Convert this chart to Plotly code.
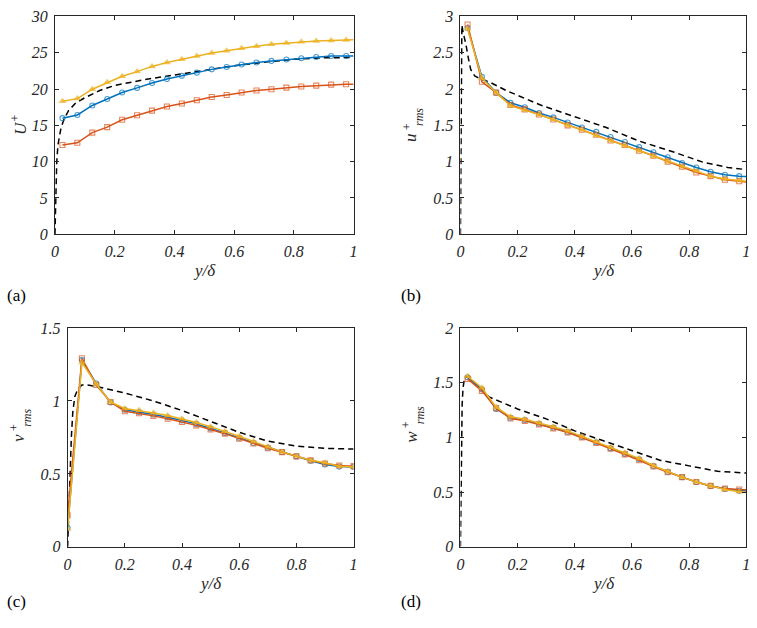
import plotly.graph_objects as go

W, H = 757, 628

# ---------------- data ----------------
x_mid = [0.025, 0.075, 0.125, 0.175, 0.225, 0.275, 0.325, 0.375, 0.425, 0.475,
         0.525, 0.575, 0.625, 0.675, 0.725, 0.775, 0.825, 0.875, 0.925, 0.975, 1.0]
x_c = [0.0, 0.05, 0.10, 0.15, 0.20, 0.25, 0.30, 0.35, 0.40, 0.45, 0.50,
       0.55, 0.60, 0.65, 0.70, 0.75, 0.80, 0.85, 0.90, 0.95, 1.0]

# (a) mean velocity U+
U_blue = [15.99, 16.43, 17.74, 18.63, 19.53, 20.16, 20.83, 21.37, 21.82, 22.26,
          22.71, 23.03, 23.39, 23.65, 23.88, 24.06, 24.24, 24.42, 24.55, 24.55, 24.56]
U_red = [12.3, 12.6, 14.0, 14.75, 15.76, 16.39, 17.02, 17.6, 18.0, 18.45,
         18.9, 19.17, 19.53, 19.8, 19.98, 20.2, 20.34, 20.47, 20.61, 20.65, 20.67]
U_yel = [18.32, 18.68, 19.98, 20.92, 21.77, 22.4, 23.12, 23.65, 24.1, 24.55,
         24.96, 25.27, 25.63, 25.9, 26.17, 26.35, 26.52, 26.61, 26.7, 26.75, 26.8]
U_ref_x = [0, 0.001, 0.002, 0.004, 0.006, 0.01, 0.015, 0.02, 0.03, 0.045, 0.07,
           0.1, 0.15, 0.2, 0.3, 0.4, 0.5, 0.6, 0.7, 0.8, 0.9, 1.0]
U_ref = [0, 2.0, 4.0, 7.5, 10.0, 12.3, 13.8, 14.6, 15.8, 17.0, 18.1,
         18.8, 19.8, 20.5, 21.3, 21.95, 22.6, 23.2, 23.7, 24.1, 24.3, 24.35]

# (b) u_rms+
u_blue = [2.84, 2.17, 1.95, 1.81, 1.75, 1.67, 1.61, 1.54, 1.47, 1.41,
          1.34, 1.27, 1.20, 1.13, 1.06, 0.98, 0.92, 0.86, 0.82, 0.80, 0.795]
u_red = [2.89, 2.10, 1.95, 1.78, 1.72, 1.65, 1.58, 1.50, 1.44, 1.37,
         1.29, 1.23, 1.15, 1.08, 1.00, 0.93, 0.85, 0.80, 0.75, 0.73, 0.72]
u_yel = [2.83, 2.15, 1.95, 1.77, 1.71, 1.65, 1.58, 1.50, 1.44, 1.36,
         1.29, 1.22, 1.15, 1.07, 1.00, 0.93, 0.87, 0.80, 0.76, 0.74, 0.73]
u_ref_x = [0, 0.001, 0.002, 0.003, 0.005, 0.01, 0.019, 0.027, 0.036, 0.05, 0.07,
           0.1, 0.16, 0.28, 0.39, 0.51, 0.62, 0.74, 0.85, 0.935, 1.0]
u_ref = [0, 0.8, 1.8, 2.5, 2.88, 2.77, 2.62, 2.44, 2.27, 2.18, 2.14,
         2.10, 1.98, 1.78, 1.63, 1.47, 1.29, 1.14, 0.99, 0.92, 0.89]

# (c) v_rms+
v_blue = [0.13, 1.28, 1.12, 0.99, 0.94, 0.925, 0.907, 0.888, 0.866, 0.843, 0.812,
          0.78, 0.748, 0.712, 0.68, 0.65, 0.62, 0.59, 0.565, 0.55, 0.548]
v_red = [0.216, 1.293, 1.11, 0.993, 0.93, 0.916, 0.898, 0.878, 0.856, 0.833, 0.804,
         0.776, 0.742, 0.709, 0.676, 0.649, 0.62, 0.593, 0.571, 0.558, 0.553]
v_yel = [0.122, 1.264, 1.116, 0.993, 0.949, 0.936, 0.918, 0.90, 0.878, 0.853, 0.824,
         0.793, 0.758, 0.722, 0.687, 0.651, 0.622, 0.593, 0.576, 0.553, 0.549]
v_ref_x = [0, 0.003, 0.008, 0.013, 0.018, 0.025, 0.035, 0.05, 0.07, 0.1,
           0.2, 0.3, 0.4, 0.5, 0.6, 0.7, 0.8, 0.9, 1.0]
v_ref = [0, 0.2, 0.5, 0.75, 0.92, 1.03, 1.08, 1.11, 1.11, 1.10,
         1.055, 1.0, 0.935, 0.86, 0.785, 0.725, 0.69, 0.675, 0.67]

# (d) w_rms+
w_blue = [1.55, 1.44, 1.26, 1.18, 1.16, 1.125, 1.09, 1.05, 1.005, 0.955,
          0.9, 0.85, 0.8, 0.738, 0.685, 0.637, 0.592, 0.556, 0.528, 0.512, 0.51]
w_red = [1.536, 1.426, 1.268, 1.173, 1.152, 1.119, 1.083, 1.045, 1.0, 0.949,
         0.896, 0.845, 0.792, 0.735, 0.682, 0.637, 0.592, 0.557, 0.533, 0.524, 0.522]
w_yel = [1.56, 1.455, 1.277, 1.19, 1.167, 1.134, 1.098, 1.06, 1.009, 0.964,
         0.911, 0.86, 0.807, 0.741, 0.688, 0.637, 0.592, 0.557, 0.524, 0.503, 0.50]
w_ref_x = [0, 0.002, 0.004, 0.006, 0.009, 0.013, 0.02, 0.03, 0.05, 0.075,
           0.1, 0.2, 0.3, 0.4, 0.5, 0.6, 0.7, 0.8, 0.9, 1.0]
w_ref = [0, 0.5, 1.0, 1.3, 1.45, 1.52, 1.55, 1.56, 1.5, 1.44,
         1.37, 1.26, 1.17, 1.06, 0.97, 0.88, 0.79, 0.74, 0.69, 0.675]

x_ticks = [0, 0.2, 0.4, 0.6, 0.8, 1]
yt_a = [0, 5, 10, 15, 20, 25, 30]
yt_b = [0, 0.5, 1, 1.5, 2, 2.5, 3]
yt_c = [0, 0.5, 1, 1.5]
yt_d = [0, 0.5, 1, 1.5, 2]

BLUE, RED, YEL = '#0072BD', '#D95319', '#EDB120'
AX = '#262626'
SERIF = 'Liberation Serif, DejaVu Serif, Times New Roman, serif'

# ---------------- layout helpers ----------------
def px(x):
    return x / W

def py(y):
    return 1 - y / H

panels = {
    # name: (left, right, top, bottom) in pixels
    'a': (51.5, 353.3, 8.7, 232.5),
    'b': (461.3, 750.3, 8.7, 232.5),
    'c': (64.3, 353.3, 329.0, 553.8),
    'd': (461.3, 750.3, 329.0, 553.8),
}

fig = go.Figure()

def add_series(xs, ys, color, symbol, size, ax, marker_last=True):
    n = len(xs)
    sizes = [size] * n
    if not marker_last:
        sizes[-1] = 0
    open_sym = symbol.endswith('open')
    fig.add_trace(go.Scatter(
        x=xs, y=ys, mode='lines+markers', xaxis='x' + ax, yaxis='y' + ax,
        line=dict(color=color, width=1.5),
        marker=dict(symbol=symbol, size=sizes, color=color,
                    line=dict(color=color, width=1.1 if open_sym else 0)),
        showlegend=False, hoverinfo='skip'))

def add_ref(xs, ys, ax):
    fig.add_trace(go.Scatter(
        x=xs, y=ys, mode='lines', xaxis='x' + ax, yaxis='y' + ax,
        line=dict(color='black', width=1.5, dash='6px,4px'),
        showlegend=False, hoverinfo='skip'))

axkeys = {'a': '', 'b': '2', 'c': '3', 'd': '4'}

# (a)
add_ref(U_ref_x, U_ref, axkeys['a'])
add_series(x_mid, U_blue, BLUE, 'circle-open', 5, axkeys['a'], False)
add_series(x_mid, U_red, RED, 'square-open', 5, axkeys['a'], False)
add_series(x_mid, U_yel, YEL, 'triangle-up', 7, axkeys['a'], False)
# (b)
add_ref(u_ref_x, u_ref, axkeys['b'])
add_series(x_mid, u_blue, BLUE, 'circle-open', 5, axkeys['b'], False)
add_series(x_mid, u_red, RED, 'square-open', 5, axkeys['b'], False)
add_series(x_mid, u_yel, YEL, 'triangle-up', 7, axkeys['b'], False)
# (c)
add_ref(v_ref_x, v_ref, axkeys['c'])
add_series(x_c, v_blue, BLUE, 'circle-open', 5, axkeys['c'], True)
add_series(x_c, v_red, RED, 'square-open', 5, axkeys['c'], True)
add_series(x_c, v_yel, YEL, 'triangle-up', 7, axkeys['c'], True)
# (d)
add_ref(w_ref_x, w_ref, axkeys['d'])
add_series(x_mid, w_blue, BLUE, 'circle-open', 5, axkeys['d'], False)
add_series(x_mid, w_red, RED, 'square-open', 5, axkeys['d'], False)
add_series(x_mid, w_yel, YEL, 'triangle-up', 7, axkeys['d'], False)

common = dict(showline=True, linecolor=AX, linewidth=1, mirror='ticks',
              ticks='inside', ticklen=4, tickcolor=AX, tickwidth=1,
              showgrid=False, zeroline=False, ticklabeloverflow='allow',
              tickfont=dict(family=SERIF, size=16, color=AX, style='italic'))

yticks = {'a': (yt_a, [0, 30]), 'b': (yt_b, [0, 3]), 'c': (yt_c, [0, 1.5]), 'd': (yt_d, [0, 2])}

layout = dict(width=W, height=H, autosize=False,
              margin=dict(l=0, r=0, t=0, b=0),
              paper_bgcolor='white', plot_bgcolor='white', showlegend=False)

for name, (l, r, t, b) in panels.items():
    k = axkeys[name]
    layout['xaxis' + k] = dict(common, domain=[px(l), px(r)], range=[0, 1],
                               tickvals=x_ticks, anchor='y' + k,
                               ticklabelstandoff=3)
    tv, rg = yticks[name]
    layout['yaxis' + k] = dict(common, domain=[py(b), py(t)], range=rg,
                               tickvals=tv, anchor='x' + k,
                               ticklabelstandoff=3)

fig.update_layout(**layout)

ann = []

def text(x, y, s, size=17, italic=True, angle=0, xanchor='center'):
    ann.append(dict(x=px(x), y=py(y), xref='paper', yref='paper', text=s,
                    showarrow=False, textangle=angle, xanchor=xanchor, yanchor='middle',
                    font=dict(family=SERIF, size=size, color=AX if italic else 'black',
                              style='italic' if italic else 'normal')))

# x labels
for name, (l, r, t, b) in panels.items():
    text((l + r) / 2, b + 37.5, 'y/δ', 17)

# y labels
text(16, 123.5, 'U', 17, angle=-90)
text(11.5, 113, '+', 12, angle=-90)

text(411, 133, 'u', 17, angle=-90)
text(407, 122.5, '+', 12, angle=-90)
text(420, 112.5, 'rms', 12, angle=-90)

text(14, 442, 'v', 17, angle=-90)
text(10, 431.5, '+', 12, angle=-90)
text(23, 421.5, 'rms', 12, angle=-90)

text(411, 441, 'w', 17, angle=-90)
text(407, 429, '+', 12, angle=-90)
text(420, 419, 'rms', 12, angle=-90)

# panel tags
text(1.5, 295, '(a)', 17, italic=False, xanchor='left')
text(399.5, 295, '(b)', 17, italic=False, xanchor='left')
text(1.5, 610, '(c)', 17, italic=False, xanchor='left')
text(399.5, 610, '(d)', 17, italic=False, xanchor='left')

fig.update_layout(annotations=ann)

fig.write_html('out.html', config={'displayModeBar': False},
               post_script="document.body.style.margin='0';document.body.style.overflow='hidden';")
